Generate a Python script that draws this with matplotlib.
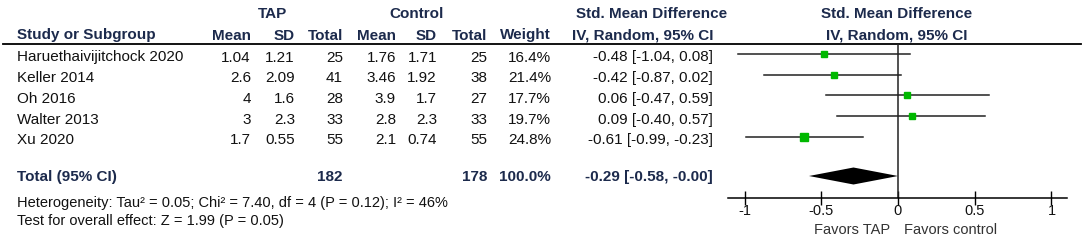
import matplotlib.pyplot as plt

studies = ["Haruethaivijitchock 2020", "Keller 2014", "Oh 2016", "Walter 2013", "Xu 2020"]
tap_mean = [1.04, 2.6, 4, 3, 1.7]
tap_sd = [1.21, 2.09, 1.6, 2.3, 0.55]
tap_n = [25, 41, 28, 33, 55]
ctl_mean = [1.76, 3.46, 3.9, 2.8, 2.1]
ctl_sd = [1.71, 1.92, 1.7, 2.3, 0.74]
ctl_n = [25, 38, 27, 33, 55]
weight = [16.4, 21.4, 17.7, 19.7, 24.8]
smd = [-0.48, -0.42, 0.06, 0.09, -0.61]
ci_lo = [-1.04, -0.87, -0.47, -0.40, -0.99]
ci_hi = [0.08, 0.02, 0.59, 0.57, -0.23]

total_tap = 182
total_ctl = 178
total_weight = 100.0
total_smd = -0.29
total_lo = -0.58
total_hi = -0.00

heterogeneity = "Heterogeneity: Tau² = 0.05; Chi² = 7.40, df = 4 (P = 0.12); I² = 46%"
overall = "Test for overall effect: Z = 1.99 (P = 0.05)"
ticks = [-1, -0.5, 0, 0.5, 1]
tick_labels = ["-1", "-0.5", "0", "0.5", "1"]

plt.rcParams["font.family"] = ["Liberation Sans", "DejaVu Sans"]
FS = 11
HEAD = "#1c2a4c"
BODY = "#111111"

W, H = 1084, 241
fig = plt.figure(figsize=(W / 100, H / 100), dpi=100)

tax = fig.add_axes([0, 0, 1, 1])
tax.set_xlim(0, W)
tax.set_ylim(H, 0)
tax.axis("off")

# column right edges (pixels)
cols = {"tm": 251, "tsd": 295, "tn": 343, "cm": 396, "csd": 437, "cn": 487, "w": 551, "ci": 713}

def txt(x, y, s, ha="right", bold=False, color=BODY, size=FS):
    tax.text(x, y, s, ha=ha, va="baseline", fontsize=size,
             fontweight="bold" if bold else "normal", color=color)

# header
txt(272, 18.5, "TAP", ha="center", bold=True, color=HEAD)
txt(417, 18.5, "Control", ha="center", bold=True, color=HEAD)
txt(652, 18.5, "Std. Mean Difference", ha="center", bold=True, color=HEAD)
txt(897, 18.5, "Std. Mean Difference", ha="center", bold=True, color=HEAD)
txt(17, 39.5, "Study or Subgroup", ha="left", bold=True, color=HEAD)
for key, lab in [("tm", "Mean"), ("tsd", "SD"), ("tn", "Total"), ("cm", "Mean"),
                 ("csd", "SD"), ("cn", "Total"), ("w", "Weight"), ("ci", "IV, Random, 95% CI")]:
    txt(cols[key], 39.5, lab, bold=True, color=HEAD)
txt(897, 39.5, "IV, Random, 95% CI", ha="center", bold=True, color=HEAD)
tax.plot([3, 1081], [44, 44], color="black", lw=1.3)

base0 = 61.5
step = 20.7
for i, name in enumerate(studies):
    y = base0 + i * step
    txt(17, y, name, ha="left")
    txt(cols["tm"], y, f"{tap_mean[i]:g}")
    txt(cols["tsd"], y, f"{tap_sd[i]:g}")
    txt(cols["tn"], y, f"{tap_n[i]}")
    txt(cols["cm"], y, f"{ctl_mean[i]:g}")
    txt(cols["csd"], y, f"{ctl_sd[i]:g}")
    txt(cols["cn"], y, f"{ctl_n[i]}")
    txt(cols["w"], y, f"{weight[i]:.1f}%")
    txt(cols["ci"], y, f"{smd[i]:.2f} [{ci_lo[i]:.2f}, {ci_hi[i]:.2f}]")

ty = 181
txt(17, ty, "Total (95% CI)", ha="left", bold=True, color=HEAD)
txt(cols["tn"], ty, f"{total_tap}", bold=True, color=HEAD)
txt(cols["cn"], ty, f"{total_ctl}", bold=True, color=HEAD)
txt(cols["w"], ty, f"{total_weight:.1f}%", bold=True, color=HEAD)
txt(cols["ci"], ty, f"{total_smd:.2f} [{total_lo:.2f}, {total_hi:.2f}]", bold=True, color=HEAD)
txt(17, 207, heterogeneity, ha="left", size=10.5)
txt(17, 225.5, overall, ha="left", size=10.5)

# forest plot
x0, x1 = 728, 1067
y_top, y_axis = 44, 198
fax = fig.add_axes([x0 / W, (H - y_axis) / H, (x1 - x0) / W, (y_axis - y_top) / H])
fax.set_xlim(-1.1075, 1.101)
fax.set_ylim(y_axis, y_top)
fax.patch.set_alpha(0)
for sp in ["top", "left", "right"]:
    fax.spines[sp].set_visible(False)
fax.spines["bottom"].set_linewidth(1.1)
fax.set_yticks([])
fax.set_xticks(ticks)
fax.set_xticklabels(tick_labels, fontsize=10.5, color=BODY)
fax.tick_params(axis="x", direction="inout", length=10, width=1, pad=-1)
fax.axvline(0, color="#222222", lw=1.1)

for i in range(len(studies)):
    y = base0 + i * step - 7.5
    fax.plot([ci_lo[i], ci_hi[i]], [y, y], color="#222222", lw=1.1)
    fax.plot(smd[i], y, marker="s", ms=weight[i] * 0.31 * 0.72 * 1.0, color="#00b800",
             mec="#00b800", lw=0)

dy = 176
fax.fill([total_lo, total_smd, total_hi, total_smd], [dy, dy - 8.5, dy, dy + 8.5],
         color="black", lw=0)

txt(890, 233.5, "Favors TAP", ha="right", color="#333333", size=10.5)
txt(904, 233.5, "Favors control", ha="left", color="#333333", size=10.5)

fig.savefig("out.png", dpi=100)
